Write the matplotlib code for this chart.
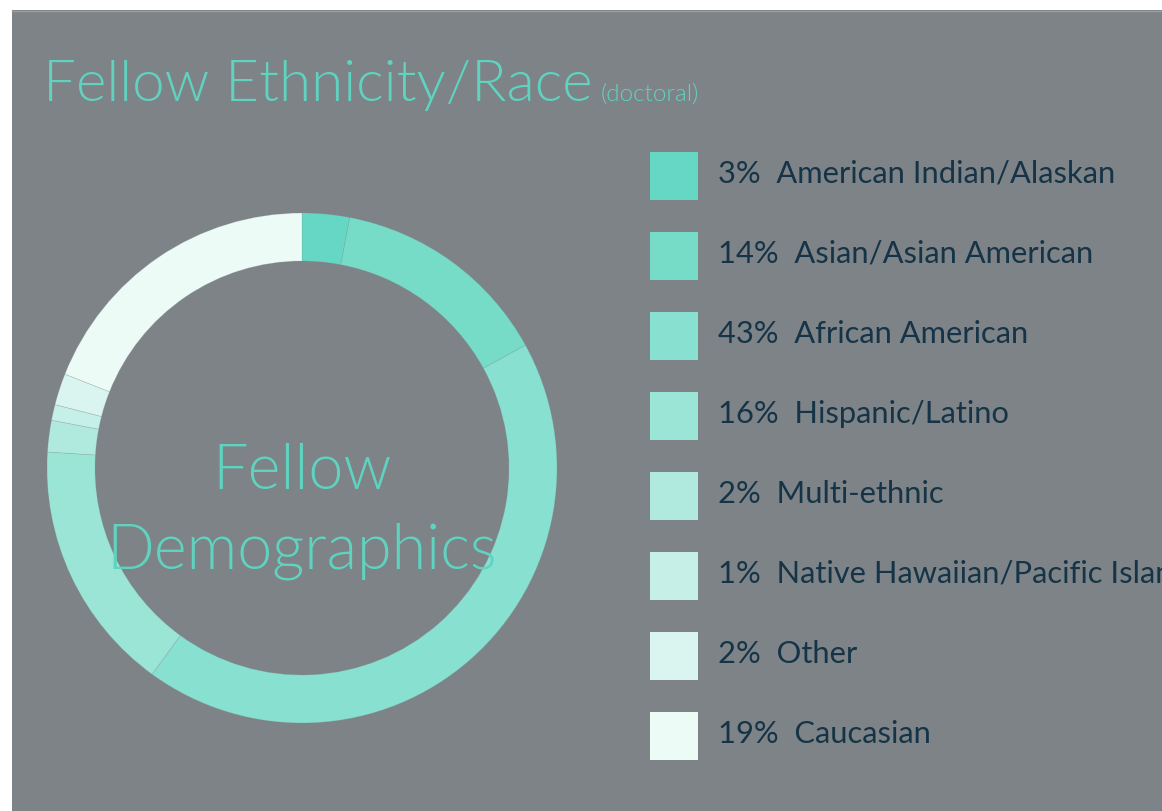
import matplotlib.pyplot as plt
from matplotlib.patches import Rectangle

labels = ['American Indian/Alaskan', 'Asian/Asian American', 'African American',
          'Hispanic/Latino', 'Multi-ethnic', 'Native Hawaiian/Pacific Islander',
          'Other', 'Caucasian']
shares = [3, 14, 43, 16, 2, 1, 2, 19]
colors = ['#66d7c4', '#76dcc8', '#88e0d0', '#9be5d7', '#b0eadf', '#c6efe8',
          '#daf5ef', '#edfbf7']

title = 'Fellow Ethnicity/Race'
subtitle = '(doctoral)'
center_text = 'Fellow\nDemographics'

W, H = 1162, 811
bg_gray = '#7d8386'
teal = '#5fd3c0'
navy = '#163447'
plt.rcParams['font.family'] = ['Lato', 'DejaVu Sans']

fig = plt.figure(figsize=(W / 100, H / 100), dpi=100, facecolor='white')

# background axes in pixel coords
ax = fig.add_axes([0, 0, 1, 1])
ax.set_xlim(0, W)
ax.set_ylim(H, 0)
ax.axis('off')
ax.add_patch(Rectangle((12, 10), W - 12, H - 10, facecolor=bg_gray, edgecolor='none'))
ax.plot([12, W], [10.5, 10.5], color='#9a9fa2', lw=1)

ax.text(43, 101, title, color=teal, fontsize=42, fontweight=300, va='baseline')
ax.text(601, 101, subtitle, color=teal, fontsize=17.5, fontweight=300, va='baseline')

# legend
for i, (lab, val, col) in enumerate(zip(labels, shares, colors)):
    y = 152 + i * 80
    ax.add_patch(Rectangle((650, y), 48, 48, facecolor=col, edgecolor='none'))
    ax.text(718, y + 31, f'{val}%  {lab}', color=navy, fontsize=22.2,
            va='baseline', clip_on=True)

# donut
cx, cy, r = 302, 468, 255
pax = fig.add_axes([(cx - r) / W, (H - cy - r) / H, 2 * r / W, 2 * r / H])
pax.pie(shares, colors=colors, startangle=90, counterclock=False,
        wedgeprops=dict(width=48 / 255, edgecolor=(0.5, 0.6, 0.6, 0.25), linewidth=0.6))
pax.set_xlim(-1, 1)
pax.set_ylim(-1, 1)
pax.axis('off')
pax.text(0, -0.17, center_text, color=teal, fontsize=45.3, fontweight=300,
         ha='center', va='center', linespacing=1.5)

fig.savefig('out.png', dpi=100, facecolor='white')
